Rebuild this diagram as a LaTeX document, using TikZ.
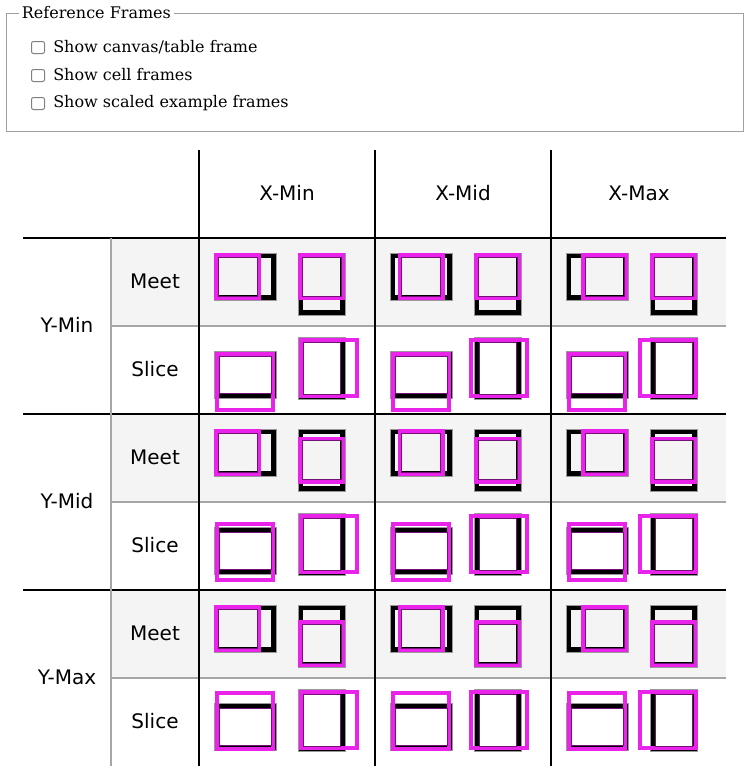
\documentclass[tikz,border=0pt]{standalone}
\usepackage{fontspec}
\setmainfont{DejaVu Serif}
\newfontfamily\hdrfont{DejaVu Sans}
\definecolor{mag}{RGB}{233,35,233}
\definecolor{rowbg}{RGB}{244,244,244}
\definecolor{fsgray}{RGB}{160,160,160}
\begin{document}
\begin{tikzpicture}[x=0.75pt,y=-0.75pt,
  lbl/.style={font=\fontsize{12pt}{14pt}\selectfont,anchor=west,inner sep=0pt},
  hdr/.style={font=\hdrfont\fontsize{15pt}{18pt}\selectfont,inner sep=0pt},
  cb/.style={draw=gray,line width=0.75pt,rounded corners=1.5pt,fill=white},
  vp/.style={draw=black,line width=3.75pt},
  vpo/.style={draw=gray!80,line width=0.6pt},
  sq/.style={draw=mag,line width=3pt},
  sqi/.style={draw=mag!50!black,line width=0.5pt}]
\useasboundingbox (0,0) rectangle (751,778);
% fieldset
\draw[fsgray,line width=0.75pt] (6,13) rectangle (743,131);
\node[lbl,fill=white,inner xsep=2pt] (legend) at (19,13) {Reference Frames};
\foreach \i/\t in {0/Show canvas\slash table frame,1/Show cell frames,2/Show scaled example frames}{
  \draw[cb] (31.5,41.5+28*\i) rectangle (44.5,53.5+28*\i);
  \node[lbl] (cb\i) at (53,47+28*\i) {\t};
}
% backgrounds
\foreach \r in {0,1,2}{
  \fill[rowbg] (111,238+176*\r) rectangle (726,326+176*\r);
}
% lines
\foreach \r in {0,1,2}{
  \draw[gray!70,line width=1pt] (111,326+176*\r) -- (726,326+176*\r);
  \draw[black,line width=1.5pt] (23,238+176*\r) -- (726,238+176*\r);
}
\draw[gray!70,line width=1pt] (111,238) -- (111,766);
\foreach \c in {0,1,2}{
  \draw[black,line width=1.5pt] (199+176*\c,150) -- (199+176*\c,766);
}
% headers
\node[hdr] (xmin) at (287,193) {X-Min};
\node[hdr] (xmid) at (463,193) {X-Mid};
\node[hdr] (xmax) at (639,193) {X-Max};
\node[hdr] (ymin) at (67,325) {Y-Min};
\node[hdr] (ymid) at (67,501) {Y-Mid};
\node[hdr] (ymax) at (67,677) {Y-Max};
\foreach \r in {0,1,2}{
  \node[hdr] (meet\r) at (155,281+176*\r) {Meet};
  \node[hdr] (slice\r) at (155,369+176*\r) {Slice};
}
% examples
\foreach \c/\a in {0/0,1/0.5,2/1}{
 \foreach \r/\b in {0/0,1/0.5,2/1}{
  \pgfmathsetmacro{\cx}{199+176*\c}
  \pgfmathsetmacro{\my}{238+176*\r}
  \pgfmathsetmacro{\sy}{326+176*\r}
  % meet wide (62x47), square 47
  \pgfmathsetmacro{\X}{\cx+15}\pgfmathsetmacro{\Y}{\my+15}
  \pgfmathsetmacro{\ox}{15*\a}
  \draw[vp] (\X+2.5,\Y+2.5) rectangle (\X+59.5,\Y+44.5);
  \draw[vpo] (\X,\Y) rectangle (\X+62,\Y+47);
  \draw[sq] (\X+\ox+2,\Y+2) rectangle (\X+\ox+45,\Y+45);
  \draw[sqi] (\X+\ox+4,\Y+4) rectangle (\X+\ox+43,\Y+43);
  % meet tall (47x62), square 47
  \pgfmathsetmacro{\X}{\cx+99}
  \pgfmathsetmacro{\oy}{15*\b}
  \draw[vp] (\X+2.5,\Y+2.5) rectangle (\X+44.5,\Y+59.5);
  \draw[vpo] (\X,\Y) rectangle (\X+47,\Y+62);
  \draw[sq] (\X+2,\Y+\oy+2) rectangle (\X+45,\Y+\oy+45);
  \draw[sqi] (\X+4,\Y+\oy+4) rectangle (\X+43,\Y+\oy+43);
  % slice wide (62x47), square ~60
  \pgfmathsetmacro{\X}{\cx+15}\pgfmathsetmacro{\Y}{\sy+25}
  \pgfmathsetmacro{\oy}{-13*\b}
  \draw[vp] (\X+2.5,\Y+2.5) rectangle (\X+59.5,\Y+44.5);
  \draw[vpo] (\X,\Y) rectangle (\X+62,\Y+47);
  \draw[sq] (\X+3,\Y+\oy+3) rectangle (\X+59,\Y+\oy+59);
  \draw[sqi] (\X+5,\Y+5) rectangle (\X+57,\Y+42);
  % slice tall (47x62), square ~60
  \pgfmathsetmacro{\X}{\cx+99}\pgfmathsetmacro{\Y}{\sy+11}
  \pgfmathsetmacro{\ox}{-13*\a}
  \draw[vp] (\X+2.5,\Y+2.5) rectangle (\X+44.5,\Y+59.5);
  \draw[vpo] (\X,\Y) rectangle (\X+47,\Y+62);
  \draw[sq] (\X+\ox+3,\Y+3) rectangle (\X+\ox+59,\Y+59);
  \draw[sqi] (\X+5,\Y+5) rectangle (\X+42,\Y+57);
 }
}
\end{tikzpicture}
\end{document}
